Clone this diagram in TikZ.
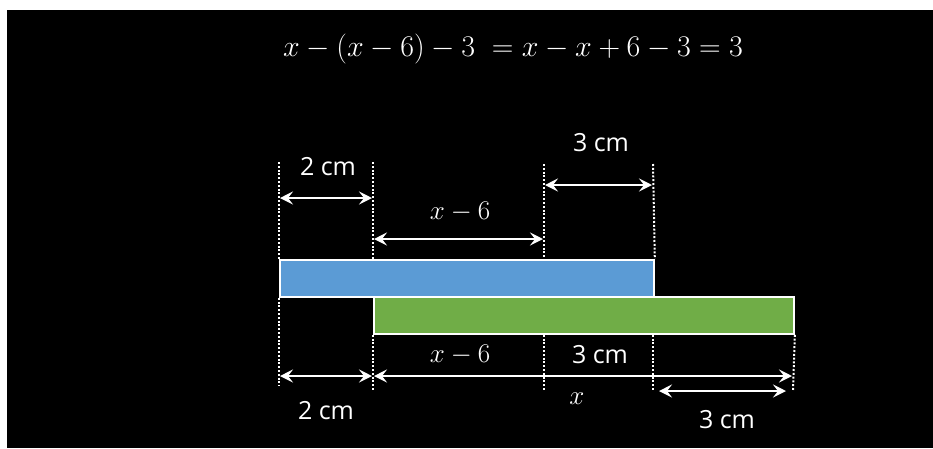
\RequirePackage{fix-cm}
\documentclass[tikz,border=0pt]{standalone}
\usepackage[no-math]{fontspec}
\setmainfont{Open Sans}
\usepackage{tikz}
\usetikzlibrary{arrows.meta,positioning,calc}
\definecolor{Board}{HTML}{000000}
\definecolor{BarBlue}{HTML}{5B9BD5}
\definecolor{BarGreen}{HTML}{70AD47}
\tikzset{
  bar/.style={
    draw=white, line width=1.8pt, anchor=north west,
    minimum height=37pt, inner sep=0pt
  },
  guide/.style={draw=white, line width=2pt, dash pattern=on 2pt off 1.8pt},
  dim/.style={{Stealth[length=13pt,width=13pt,inset=5pt]}-{Stealth[length=13pt,width=13pt,inset=5pt]},
    line width=2.4pt, draw=white, shorten <=1pt, shorten >=1pt},
  lbl/.style={text=white, inner sep=0pt, font=\fontsize{25}{28}\selectfont},
  mlbl/.style={lbl, font=\fontsize{27}{30}\selectfont}
}

\begin{document}
\begin{tikzpicture}[x=1pt,y=-1pt]
  \useasboundingbox (0,0) rectangle (933,448);
  \fill[white] (0,0) rectangle (933,448);
  \fill[Board] (7,10) rectangle (933,448);

  \node[lbl,font=\fontsize{30}{32}\selectfont] (eq) at (513,49)
    {$x-(x-6)-3\;=x-x+6-3=3$};

  % the two strips
  \node[bar,fill=BarBlue,minimum width=374pt] (blue) at (279,259) {};
  \node[bar,fill=BarGreen,minimum width=420pt] (green) at (373,296) {};

  % guide lines above
  \coordinate (ta) at (279,162);
  \coordinate (tb) at (373,162);
  \coordinate (tc) at (544,164);
  \coordinate (td) at (653,164);
  \draw[guide] (ta)--(blue.north west);
  \draw[guide] (tb)--(tb|-blue.north);
  \draw[guide] (tc)--(tc|-blue.north);
  \draw[guide] (td)--(blue.north east);

  % guide lines below
  \coordinate (ba) at (279,386);
  \coordinate (bb) at (373,390);
  \coordinate (bc) at (544,390);
  \coordinate (bd) at (653,390);
  \coordinate (be) at (793,390);
  \draw[guide] (blue.south west)--(ba);
  \draw[guide] (green.south west)--(bb);
  \draw[guide] (bc|-green.south)--(bc);
  \draw[guide] (bd|-green.south)--(bd);
  \draw[guide] (green.south east)--(be);

  % dimensions above
  \draw[dim] (279,198)--(373,198);
  \draw[dim] (373,239)--(544,239);
  \draw[dim] (544,185)--(653,185);
  \node[lbl] (twoA) at (328,167) {2 cm};
  \node[mlbl] (diffA) at (460,212) {$x-6$};
  \node[lbl] (threeA) at (601,143) {3 cm};

  % dimensions below
  \draw[dim] (279,376)--(373,376);
  \draw[dim] (373,376)--(793,376);
  \draw[dim] (658,391)--(787,391);
  \node[mlbl] (diffB) at (460,355) {$x-6$};
  \node[lbl] (threeB) at (600,355) {3 cm};
  \node[lbl] (twoB) at (326,411) {2 cm};
  \node[mlbl] (xB) at (577,399) {$x$};
  \node[lbl] (threeC) at (727,420) {3 cm};
\end{tikzpicture}
\end{document}
